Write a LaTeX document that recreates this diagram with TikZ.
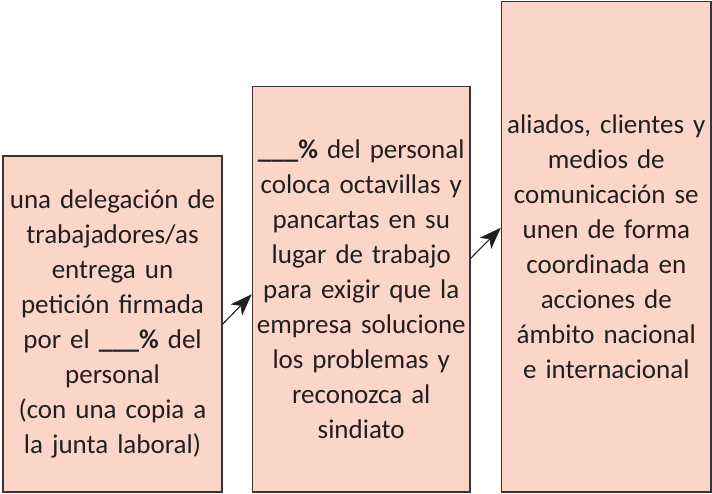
\documentclass[tikz,border=0pt]{standalone}
\usepackage{fontspec}
\setmainfont{Carlito}
\usetikzlibrary{arrows.meta}
\definecolor{boxfill}{HTML}{FBD6C8}
\definecolor{boxline}{HTML}{3A3436}
\definecolor{ink}{HTML}{231F20}

\begin{document}
\begin{tikzpicture}[x=1pt,y=-1pt,
        stage/.style={draw=boxline,line width=1.6pt,fill=boxfill,text=ink,
            inner sep=0pt,align=center,
            font=\fontsize{27pt}{35pt}\selectfont},
        link/.style={-{Stealth[length=22pt,width=16pt,inset=6pt]},line width=1.1pt,draw=ink}]
    \useasboundingbox (0,0) rectangle (712,494);
    \node[stage,minimum width=219pt,minimum height=336pt,text width=212pt] (petition) at (112.5,324)
        {una delegación de\\trabajadores/as\\entrega un\\petición firmada\\por el \textbf{\_\_\_\%} del\\personal\\(con una copia a\\la junta laboral)};
    \node[stage,minimum width=217.5pt,minimum height=405.5pt,text width=212pt] (posters) at (361.25,289.25)
        {\textbf{\_\_\_\%} del personal\\coloca octavillas y\\pancartas en su\\lugar de trabajo\\para exigir que la\\empresa solucione\\los problemas y\\reconozca al\\sindiato};
    \node[stage,minimum width=209.3pt,minimum height=490.5pt,text width=205pt] (allies) at (606.3,246.75)
        {aliados, clientes y\\medios de\\comunicación se\\unen de forma\\coordinada en\\acciones de\\ámbito nacional\\e internacional};
    \draw[link] (petition.east) -- ([yshift=-5pt]posters.west);
    \draw[link] ([yshift=31pt]posters.east) -- ([yshift=19pt]allies.west);
\end{tikzpicture}
\end{document}
